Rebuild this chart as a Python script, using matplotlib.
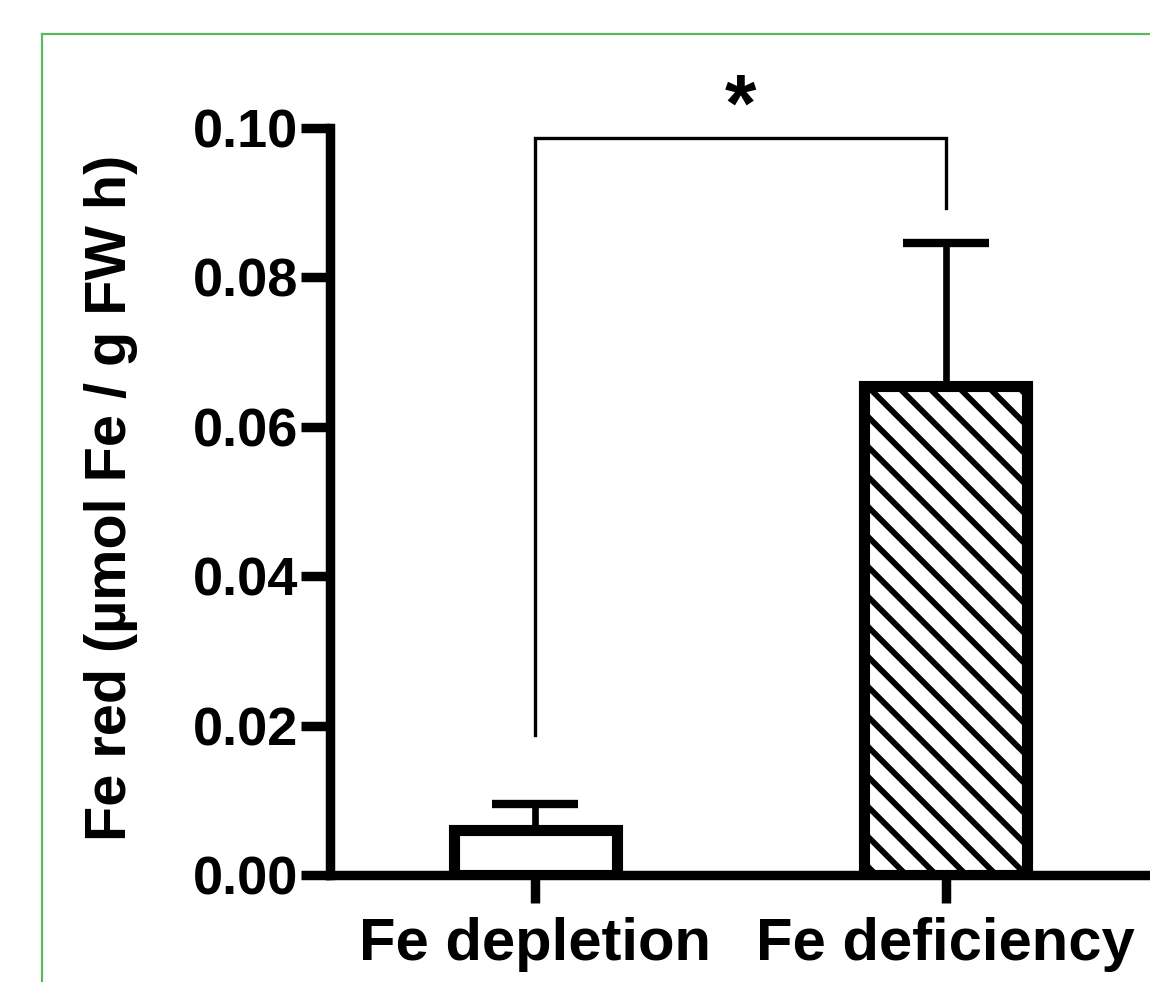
import matplotlib
matplotlib.use("Agg")
import matplotlib.pyplot as plt
from matplotlib.lines import Line2D
from matplotlib.transforms import IdentityTransform

# data
groups = ["Fe depletion", "Fe deficiency"]
means = [0.0060, 0.0655]
sem = [0.0035, 0.0191]
hatched = [False, True]
bracket_y = 0.0987
bracket_feet = [0.0187, 0.0893]
star_label = "*"
y_ticks = [0.00, 0.02, 0.04, 0.06, 0.08, 0.10]
y_label = "Fe red (µmol Fe / g FW h)"

plt.rcParams["font.family"] = ["Liberation Sans", "DejaVu Sans"]
plt.rcParams["font.weight"] = "bold"

W, H = 1150, 982
fig = plt.figure(figsize=(W / 100, H / 100), dpi=100)
ax = fig.add_axes([330 / W, 1 - 875 / H, 821 / W, 747 / H])

x = list(range(len(groups)))
bar_w = 0.397

# white fill, hatch, then outline on top
fills = ax.bar(x, means, width=bar_w, color="white", edgecolor="none", zorder=1)
ax.bar(x, means, width=bar_w, color="none", edgecolor="black", linewidth=8, zorder=3)

ax.errorbar(x, means, yerr=[[0] * len(means), sem], fmt="none", ecolor="black",
            elinewidth=4.8, capsize=31, capthick=6, zorder=2)

ax.set_xlim(-0.5, 1.5)
ax.set_ylim(0, 0.1)

# manual wide-spaced hatch (default hatch density is too tight), clipped by hand
for patch, hat in zip(fills, hatched):
    if not hat:
        continue
    (x0, y0), (x1, y1) = ax.transData.transform(
        [(patch.get_x(), 0), (patch.get_x() + patch.get_width(), patch.get_height())])
    step = 30
    c = x0 + y0 + 12
    while c < x1 + y1 + step:
        # lines x + y = c run down-right in the image
        xa = max(x0, c - y1)
        xb = min(x1, c - y0)
        if xb > xa:
            ax.add_line(Line2D([xa, xb], [c - xa, c - xb], transform=IdentityTransform(),
                               color="black", linewidth=4.2, solid_capstyle="butt",
                               zorder=2, clip_on=False))
        c += step

# significance bracket
ax.plot([x[0], x[0], x[1], x[1]],
        [bracket_feet[0], bracket_y, bracket_y, bracket_feet[1]],
        color="black", linewidth=2.4, solid_joinstyle="miter", clip_on=False)
ax.text((x[0] + x[1]) / 2, bracket_y - 0.0013, star_label, ha="center", va="bottom",
        fontsize=58, fontweight="bold", clip_on=False)

ax.spines["top"].set_visible(False)
ax.spines["right"].set_visible(False)
for s in ("left", "bottom"):
    ax.spines[s].set_linewidth(6.8)

ax.set_yticks(y_ticks)
ax.set_yticklabels([f"{v:.2f}" for v in y_ticks])
ax.set_xticks(x)
ax.set_xticklabels(groups)
ax.tick_params(axis="y", direction="out", length=21, width=6.8, labelsize=39, pad=2)
ax.tick_params(axis="x", direction="out", length=20, width=6.8, labelsize=43, pad=10)
for lab in ax.get_xticklabels() + ax.get_yticklabels():
    lab.set_fontweight("bold")

ax.set_ylabel(y_label, fontsize=41.5, fontweight="bold")
ax.yaxis.set_label_coords(-0.234, 0.505)

# green frame lines
fig.add_artist(Line2D([42 / W, 1], [1 - 34 / H, 1 - 34 / H], color="#5cb85c", linewidth=1.6))
fig.add_artist(Line2D([42 / W, 42 / W], [0, 1 - 34 / H], color="#5cb85c", linewidth=1.6))

fig.savefig("out.png", dpi=100, facecolor="white")
